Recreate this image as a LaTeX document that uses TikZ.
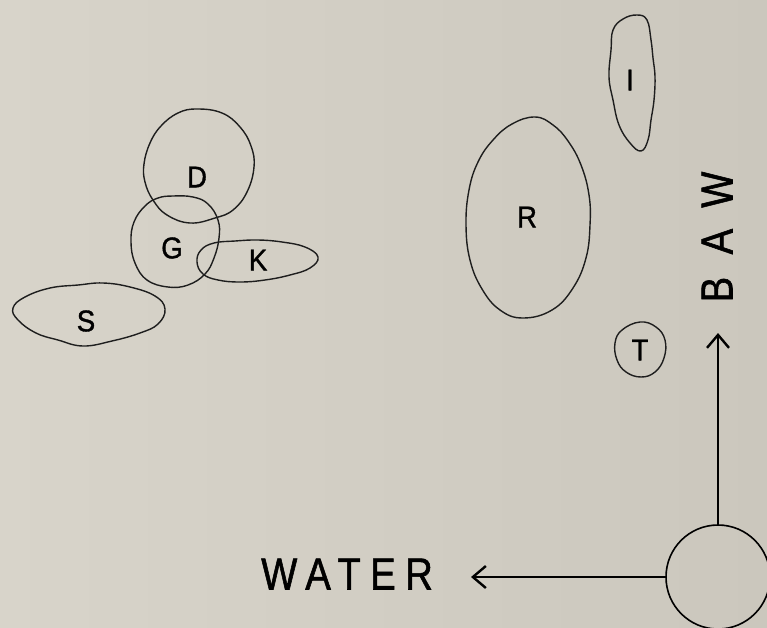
\documentclass[tikz,border=0pt]{standalone}
\usepackage{fontspec}
\setmainfont{Liberation Sans}
\newfontfamily\lblfont[FakeStretch=0.92,FakeBold=1.2]{Liberation Sans}
\newfontfamily\axisfont[FakeStretch=0.85,LetterSpace=21,FakeBold=1.2]{Liberation Sans}
\newfontfamily\bawfont[FakeStretch=0.85,LetterSpace=50,FakeBold=1.2]{Liberation Sans}
\usetikzlibrary{arrows.meta}
\definecolor{bgl}{RGB}{216,212,202}
\definecolor{bgr}{RGB}{203,199,189}
\definecolor{ink}{RGB}{30,30,30}
\begin{document}
\begin{tikzpicture}[x=1pt,y=-1pt,
  blob/.style={draw=ink, line width=1.4pt},
  lbl/.style={font=\lblfont\fontsize{30}{30}\selectfont, inner sep=0pt, text=black},
  axis/.style={draw=black, line width=1.6pt, -{Straight Barb[length=13pt,width=22pt,line width=2.4pt]}}]
\path[left color=bgl, right color=bgr] (0,0) rectangle (767,627);
\useasboundingbox (0,0) rectangle (767,627);
% D
\draw[blob] plot[smooth cycle, tension=0.7] coordinates {(197,109) (222,113) (240,127) (251,146) (254,167) (247,192) (233,210) (215,218) (190,223) (167,215) (153,200) (145,182) (144,164) (150,143) (161,126) (178,113)};
% G
\draw[blob] plot[smooth cycle, tension=0.7] coordinates {(173,196) (193,197) (208,204) (218,220) (219,238) (214,258) (205,274) (188,285) (168,287) (147,280) (135,263) (131,242) (134,222) (145,206) (158,198)};
% K
\draw[blob] plot[smooth cycle, tension=0.7] coordinates {(197,262) (201,250) (214,243) (235,241) (258,240) (282,242) (305,247) (318,257) (310,268) (290,275) (265,280) (240,282) (218,280) (203,274)};
% S
\draw[blob] plot[smooth cycle, tension=0.7] coordinates {(13,308) (25,297) (50,288) (78,285) (103,283) (130,287) (155,296) (165,309) (158,324) (140,333) (112,341) (83,346) (58,340) (36,333) (18,320)};
% R
\draw[blob] plot[smooth cycle, tension=0.7] coordinates {(535,117) (553,125) (568,141) (581,165) (589,195) (590,225) (586,258) (573,288) (552,310) (523,318) (500,310) (482,289) (470,260) (466,225) (469,190) (478,162) (493,140) (512,124)};
% I
\draw[blob] plot[smooth cycle, tension=0.7] coordinates {(637,15) (647,20) (651,40) (653,58) (655,77) (654,100) (651,120) (648,140) (641,151) (630,143) (619,125) (613,100) (609,77) (611,50) (613,30) (623,19)};
% T
\draw[blob] plot[smooth cycle, tension=0.7] coordinates {(640,322) (656,327) (665,340) (664,358) (655,372) (641,377) (626,372) (617,360) (615,343) (622,330)};
% labels
\node[lbl] (d) at (197,177) {D};
\node[lbl] (g) at (172,248) {G};
\node[lbl] (k) at (258,260) {K};
\node[lbl] (s) at (86,321) {S};
\node[lbl] (r) at (527,217) {R};
\node[lbl] (i) at (630,80) {I};
\node[lbl] (t) at (640,350) {T};
% source circle and axes
\node[circle, draw=black, line width=1.6pt, minimum size=104pt, inner sep=0pt] (src) at (718,577) {};
\coordinate (wtip) at (471,577);
\coordinate (btip) at (718,333);
\draw[axis] (src) -- (wtip);
\draw[axis] (src) -- (btip);
\node[anchor=west, font=\axisfont\fontsize{45}{45}\selectfont, inner sep=0pt] (water) at (261,574) {WATER};
\node[rotate=90, font=\bawfont\fontsize{45}{45}\selectfont, inner sep=0pt] (baw) at (717,237) {BAW};
\end{tikzpicture}
\end{document}
